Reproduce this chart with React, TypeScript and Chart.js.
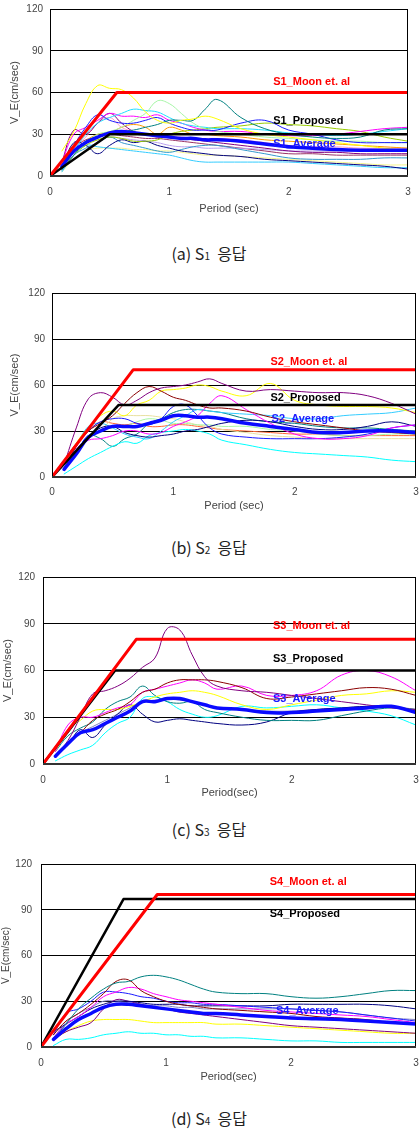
import React, { useEffect, useRef } from "react";
import { Chart, registerables } from "chart.js";
Chart.register(...registerables);

// Shared period grid (sec) for the response spectra
const periods = [0.1, 0.2, 0.3, 0.4, 0.5, 0.6, 0.7, 0.8, 0.9, 1.0, 1.1, 1.2, 1.3, 1.4, 1.6, 1.8, 2.0, 2.2, 2.4, 2.6, 2.8, 3.0];

// ---- S1 ----
const s1MoonX = [0, 0.56, 3];
const s1MoonY = [0, 60, 60];
const s1PropX = [0, 0.5, 3];
const s1PropY = [0, 30, 30];
const s1Average = [7, 18, 24, 28, 31, 32, 31, 30, 29, 28, 27, 27, 26, 26, 25, 23, 21, 20, 19, 18.5, 18.5, 18.5];
const s1Yellow = [18, 32, 52, 65, 63, 62, 56, 46, 40, 38, 40, 41, 43, 41, 34, 30, 28, 26, 24, 22, 20, 18];
const s1Teal = [5, 15, 25, 28, 30, 32, 33, 35, 37, 40, 40, 40, 48, 55, 42, 34, 30, 28, 27, 28, 33, 34];
const s1Blue = [8, 22, 35, 44, 40, 38, 38, 40, 42, 38, 35, 33, 33, 33, 38, 40, 33, 30, 26, 24, 24, 24];
const s1PaleGreen = [5, 15, 24, 30, 32, 35, 40, 45, 54, 52, 45, 38, 34, 32, 30, 28, 27, 26, 25, 25, 24, 24];
const s1Cyan = [6, 18, 30, 38, 42, 45, 48, 47, 46, 42, 38, 36, 35, 34, 34, 33, 31, 30, 29, 30, 32, 34];
const s1Magenta = [10, 30, 35, 40, 45, 43, 43, 42, 44, 40, 38, 35, 33, 32, 32, 30, 29, 29, 30, 32, 34, 35];
const s1Purple = [10, 33, 30, 38, 45, 38, 32, 30, 28, 28, 27, 26, 25, 24, 22, 20, 18, 17, 17, 16, 16, 16];
const s1Olive = [5, 15, 22, 26, 28, 27, 25, 25, 26, 30, 32, 33, 34, 35, 36, 38, 37, 36, 34, 32, 28, 25];
const s1Orange = [5, 15, 25, 30, 31, 35, 37, 35, 30, 35, 33, 30, 30, 29, 28, 26, 25, 24, 23, 22, 21, 20];
const s1Navy = [5, 24, 22, 16, 22, 26, 24, 25, 22, 20, 18, 17, 16, 15, 14, 12, 11, 10, 9, 8, 7, 5];
const s1Sky = [3, 15, 22, 21, 20, 19, 18, 17, 16, 15, 13, 11, 10, 10, 10, 10, 10, 9, 8, 7, 6, 6];
const s1Steel = [4, 15, 20, 24, 28, 24, 22, 20, 18, 17, 19, 21, 22, 22, 19, 16, 13, 12, 12, 12, 13, 13];
const s1Lavender = [5, 18, 24, 26, 28, 27, 26, 25, 24, 22, 21, 21, 20, 20, 20, 19, 18, 18, 18, 18, 18, 18];
const s1Pink = [6, 20, 28, 38, 42, 35, 32, 30, 29, 28, 28, 27, 27, 27, 26, 24, 22, 21, 21, 20, 20, 20];
const s1LightYellow = [3, 12, 18, 20, 20, 20, 19, 19, 18, 18, 17, 16, 15, 15, 14, 13, 12, 11, 10, 9, 8, 8];
const s1Plum = [5, 20, 26, 28, 30, 29, 28, 27, 27, 26, 25, 24, 23, 22, 20, 18, 16, 16, 15, 15, 15, 15];

// ---- S2 ----
const s2MoonX = [0, 0.67, 3];
const s2MoonY = [0, 70, 70];
const s2PropX = [0, 0.55, 3];
const s2PropY = [0, 47, 47];
const s2Average = [5, 15, 26, 30, 33, 33, 33, 35, 37, 40, 40, 39, 39, 38, 35, 33, 31, 29, 29, 30, 30, 29];
const s2Purple = [8, 32, 51, 55, 52, 47, 50, 55, 58, 59, 60, 62, 64, 61, 56, 57, 56, 55, 55, 53, 48, 41];
const s2DarkRed = [5, 20, 30, 35, 40, 48, 55, 59, 56, 52, 50, 47, 45, 45, 43, 39, 36, 34, 32, 30, 29, 28];
const s2Yellow = [5, 22, 32, 40, 43, 40, 47, 50, 56, 57, 58, 60, 59, 56, 53, 61, 50, 47, 46, 46, 45, 42];
const s2Magenta = [5, 18, 24, 25, 27, 30, 30, 28, 29, 33, 36, 40, 48, 53, 44, 35, 28, 25, 25, 27, 32, 34];
const s2Blue = [6, 20, 30, 36, 38, 38, 35, 34, 38, 46, 47, 40, 32, 28, 26, 25, 25, 25, 26, 28, 32, 34];
const s2Navy = [5, 18, 26, 32, 33, 29, 27, 26, 27, 28, 30, 31, 33, 35, 37, 36, 33, 31, 31, 33, 36, 33];
const s2Cyan = [2, 7, 12, 16, 20, 23, 22, 27, 29, 30, 31, 30, 28, 24, 21, 18, 16, 15, 14, 13, 11, 10];
const s2Sky = [5, 20, 33, 35, 32, 28, 26, 25, 30, 36, 40, 44, 43, 42, 41, 40, 38, 38, 40, 41, 42, 45];
const s2Teal = [5, 15, 27, 25, 20, 25, 28, 35, 38, 42, 44, 44, 43, 42, 38, 36, 35, 33, 32, 32, 31, 30];
const s2PaleGreen = [5, 15, 27, 30, 32, 33, 36, 38, 37, 35, 35, 34, 34, 33, 33, 31, 30, 28, 27, 27, 28, 28];
const s2Beige = [5, 15, 25, 30, 38, 40, 40, 40, 39, 38, 36, 34, 33, 31, 29, 27, 26, 25, 25, 25, 25, 25];
const s2Orange = [10, 22, 30, 36, 35, 34, 35, 33, 33, 34, 34, 33, 32, 31, 30, 29, 28, 28, 27, 27, 27, 27];

// ---- S3 ----
const s3MoonX = [0, 0.75, 3];
const s3MoonY = [0, 80, 80];
const s3PropX = [0, 0.58, 3];
const s3PropY = [0, 60, 60];
const s3Average = [5, 13, 20, 22, 26, 30, 34, 40, 40, 42, 42, 40, 38, 36, 35, 33, 33, 34, 35, 36, 37, 33];
const s3Purple = [5, 15, 30, 45, 47, 50, 55, 62, 68, 87, 86, 70, 56, 50, 47, 46, 44, 42, 40, 38, 36, 35];
const s3DarkRed = [5, 14, 20, 28, 32, 35, 40, 46, 48, 52, 54, 54, 54, 53, 49, 42, 43, 45, 47, 49, 48, 44];
const s3Magenta = [8, 25, 30, 30, 33, 36, 38, 46, 48, 50, 52, 54, 52, 48, 50, 44, 44, 47, 57, 60, 56, 47];
const s3Yellow = [8, 22, 28, 34, 35, 35, 37, 40, 43, 45, 46, 47, 46, 44, 38, 35, 38, 41, 44, 45, 47, 46];
const s3Teal = [8, 18, 23, 27, 35, 40, 43, 50, 44, 40, 39, 40, 35, 33, 30, 28, 28, 28, 31, 34, 36, 35];
const s3Navy = [5, 12, 22, 17, 25, 32, 38, 32, 27, 28, 29, 28, 27, 26, 25, 27, 33, 35, 36, 37, 37, 34];
const s3Cyan = [2, 6, 9, 12, 20, 26, 30, 42, 43, 40, 35, 32, 30, 31, 37, 36, 37, 38, 36, 34, 31, 25];
const s3Lavender = [5, 14, 20, 24, 28, 32, 36, 40, 41, 42, 41, 40, 38, 36, 35, 34, 34, 35, 36, 37, 37, 35];

// ---- S4 ----
const s4MoonX = [0, 0.93, 3];
const s4MoonY = [0, 100, 100];
const s4PropX = [0, 0.66, 3];
const s4PropY = [0, 97, 97];
const s4Average = [5, 12, 18, 22, 26, 28, 28, 27, 26, 25, 24, 23, 22, 22, 21, 20, 19, 18.5, 18, 17, 16, 15];
const s4Teal = [5, 15, 25, 32, 38, 42, 43, 46, 47, 46, 44, 41, 38, 36, 35, 35, 33, 32, 33, 35, 37, 37];
const s4DarkRed = [8, 17, 22, 28, 35, 43, 44, 37, 33, 30, 28, 27, 26, 25, 24, 23, 22, 20, 19, 18, 16, 15];
const s4Magenta = [6, 15, 20, 26, 33, 36, 39, 38, 35, 33, 31, 30, 29, 28, 26, 24, 23, 22, 21, 20, 18, 16];
const s4Blue = [8, 22, 25, 30, 36, 36, 35, 33, 32, 30, 29, 29, 28, 28, 27, 26, 25, 24, 23, 21, 19, 17];
const s4Navy = [10, 15, 20, 25, 28, 30, 30, 29, 28, 28, 28, 27, 27, 27, 27, 27, 28, 28, 28, 28, 27, 25];
const s4Purple = [5, 10, 13, 16, 25, 31, 30, 28, 26, 25, 23, 22, 21, 20, 18, 16, 14, 13, 12, 11, 10, 9];
const s4Yellow = [5, 10, 14, 17, 18, 18, 18, 17, 16, 16, 16, 16, 16, 15, 15, 14, 13, 12, 11, 10, 9, 9];
const s4Cyan = [1, 5, 5, 6, 8, 9, 10, 9, 9, 8, 8, 7, 7, 6, 6, 5, 4, 4, 3, 3, 3, 3];
const s4Lavender = [6, 16, 22, 26, 30, 30, 29, 28, 27, 27, 26, 26, 25, 25, 25, 25, 25, 24, 23, 21, 19, 18];

const xTitle12 = "Period (sec)";
const xTitle34 = "Period(sec)";
const yTitle = "V_E(cm/sec)";
const captionLetters = ["a", "b", "c", "d"];
const captionNums = ["1", "2", "3", "4"];
const captionWord = "응답";

const C = {
  yellow: "#ffff00", teal: "#008080", blue: "#1a1aff", paleGreen: "#a6f5a6", cyan: "#22ddff",
  magenta: "#ff00ff", purple: "#800080", olive: "#99cc00", orange: "#ff9900", navy: "#000080",
  sky: "#33ccff", steel: "#3399cc", lavender: "#b9a0ee", pink: "#ff99cc", lightYellow: "#f5f58c",
  plum: "#993366", darkRed: "#8b0000", beige: "#e8e0a0",
};

type Cfg = {
  top: number; h: number; padTop: number; padRight: number; yW: number; xH: number;
  xTickPad: number; yTickPad: number; yTitlePad: number; tickFont: number; yTitleFont: number; xTitle: string;
  moon: [number[], number[]]; prop: [number[], number[]]; avg: number[];
  thin: [number[], string][]; labels: { text: string; x: number; y: number; color: string }[];
};

const charts: Cfg[] = [
  {
    top: 0, h: 216, padTop: 9, padRight: 12, yW: 50, xH: 40, xTickPad: 10, yTickPad: 7, yTitlePad: 8, tickFont: 10, yTitleFont: 11, xTitle: xTitle12,
    moon: [s1MoonX, s1MoonY], prop: [s1PropX, s1PropY], avg: s1Average,
    thin: [[s1Yellow, C.yellow], [s1Teal, C.teal], [s1Blue, C.blue], [s1PaleGreen, C.paleGreen], [s1Cyan, C.cyan],
      [s1Magenta, C.magenta], [s1Purple, C.purple], [s1Olive, C.olive], [s1Orange, C.orange], [s1Navy, C.navy],
      [s1Sky, C.sky], [s1Steel, C.steel], [s1Lavender, C.lavender], [s1Pink, C.pink], [s1LightYellow, C.lightYellow], [s1Plum, C.plum]],
    labels: [
      { text: "S1_Moon et. al", x: 1.87, y: 67.5, color: "#ff0000" },
      { text: "S1_Proposed", x: 1.87, y: 39.5, color: "#000000" },
      { text: "S1_Average", x: 1.87, y: 23, color: "#1a1aff" },
    ],
  },
  {
    top: 280, h: 233, padTop: 13, padRight: 4, yW: 52, xH: 36, xTickPad: 9, yTickPad: 7, yTitlePad: 8, tickFont: 10, yTitleFont: 11, xTitle: xTitle12,
    moon: [s2MoonX, s2MoonY], prop: [s2PropX, s2PropY], avg: s2Average,
    thin: [[s2Purple, C.purple], [s2DarkRed, C.darkRed], [s2Yellow, C.yellow], [s2Magenta, C.magenta], [s2Blue, C.blue],
      [s2Navy, C.navy], [s2Cyan, "#00ffff"], [s2Sky, C.sky], [s2Teal, C.teal], [s2PaleGreen, C.paleGreen], [s2Beige, C.beige], [s2Orange, "#ff6633"]],
    labels: [
      { text: "S2_Moon et. al", x: 1.8, y: 75, color: "#ff0000" },
      { text: "S2_Proposed", x: 1.8, y: 51.5, color: "#000000" },
      { text: "S2_Average", x: 1.81, y: 37.8, color: "#1a1aff" },
    ],
  },
  {
    top: 560, h: 240, padTop: 17, padRight: 4, yW: 43, xH: 36, xTickPad: 10, yTickPad: 8, yTitlePad: 1.4, tickFont: 10, yTitleFont: 11, xTitle: xTitle34,
    moon: [s3MoonX, s3MoonY], prop: [s3PropX, s3PropY], avg: s3Average,
    thin: [[s3Purple, C.purple], [s3DarkRed, C.darkRed], [s3Magenta, C.magenta], [s3Yellow, C.yellow], [s3Teal, C.teal],
      [s3Navy, C.navy], [s3Cyan, "#00ffff"], [s3Lavender, "#8080c0"]],
    labels: [
      { text: "S3_Moon et. al", x: 1.85, y: 88.7, color: "#ff0000" },
      { text: "S3_Proposed", x: 1.85, y: 67.5, color: "#000000" },
      { text: "S3_Average", x: 1.85, y: 41.8, color: "#1a1aff" },
    ],
  },
  {
    top: 850, h: 234, padTop: 14, padRight: 4, yW: 41, xH: 37, xTickPad: 10, yTickPad: 9, yTitlePad: 0, tickFont: 10, yTitleFont: 10, xTitle: xTitle34,
    moon: [s4MoonX, s4MoonY], prop: [s4PropX, s4PropY], avg: s4Average,
    thin: [[s4Teal, C.teal], [s4DarkRed, C.darkRed], [s4Magenta, C.magenta], [s4Blue, C.blue], [s4Navy, C.navy],
      [s4Purple, C.purple], [s4Yellow, C.yellow], [s4Cyan, "#00ffff"], [s4Lavender, "#8080c0"]],
    labels: [
      { text: "S4_Moon et. al", x: 1.83, y: 108.2, color: "#ff0000" },
      { text: "S4_Proposed", x: 1.83, y: 87.2, color: "#000000" },
      { text: "S4_Average", x: 1.88, y: 23.6, color: "#1a1aff" },
    ],
  },
];

const captions = [
  { top: 243 },
  { top: 537 },
  { top: 819 },
  { top: 1108 },
];

const xy = (xs: number[], ys: number[]) => xs.map((x, i) => ({ x, y: ys[i] }));

const framePlugin = {
  id: "frame",
  afterDatasetsDraw(chart: any) {
    const { ctx, chartArea } = chart;
    const { left, right, top, bottom } = chartArea;
    ctx.save();
    ctx.strokeStyle = "#000";
    ctx.lineWidth = 1;
    ctx.beginPath();
    ctx.moveTo(Math.round(left) + 0.5, top);
    ctx.lineTo(Math.round(left) + 0.5, bottom);
    ctx.moveTo(Math.round(right) - 0.5, top);
    ctx.lineTo(Math.round(right) - 0.5, bottom);
    ctx.moveTo(left, Math.round(top) + 0.5);
    ctx.lineTo(right, Math.round(top) + 0.5);
    ctx.stroke();
    ctx.strokeStyle = "#333";
    ctx.lineWidth = 2;
    ctx.beginPath();
    ctx.moveTo(left, Math.round(bottom));
    ctx.lineTo(right, Math.round(bottom));
    ctx.stroke();
    ctx.restore();
  },
};

const labelPlugin = {
  id: "seriesLabels",
  afterDatasetsDraw(chart: any, _args: any, opts: any) {
    const { ctx, scales } = chart;
    ctx.save();
    ctx.font = 'bold 11px "Liberation Sans", Arial, sans-serif';
    ctx.textAlign = "left";
    ctx.textBaseline = "middle";
    for (const l of opts.items || []) {
      ctx.fillStyle = l.color;
      ctx.fillText(l.text, scales.x.getPixelForValue(l.x), scales.y.getPixelForValue(l.y));
    }
    ctx.restore();
  },
};

function buildConfig(c: Cfg): any {
  const datasets: any[] = [
    { data: xy(c.moon[0], c.moon[1]), borderColor: "#ff0000", borderWidth: 3, tension: 0 },
    { data: xy(c.prop[0], c.prop[1]), borderColor: "#000000", borderWidth: 2.5, tension: 0 },
    { data: xy(periods, c.avg), borderColor: "#0a0aff", borderWidth: 3.5, tension: 0.4 },
    ...c.thin.map(([vals, color]) => ({ data: xy(periods, vals), borderColor: color, borderWidth: 1, tension: 0.4 })),
  ];
  const tickFont = { family: '"Liberation Sans", Arial, sans-serif', size: c.tickFont };
  const titleFont = { family: '"Liberation Sans", Arial, sans-serif', size: 11 };
  return {
    type: "line",
    data: { datasets },
    plugins: [framePlugin, labelPlugin],
    options: {
      animation: false,
      responsive: false,
      events: [],
      elements: { point: { radius: 0 }, line: { fill: false, borderCapStyle: "round", borderJoinStyle: "round" } },
      layout: { padding: { left: 0, right: c.padRight, top: c.padTop, bottom: 0 } },
      plugins: {
        legend: { display: false },
        tooltip: { enabled: false },
        seriesLabels: { items: c.labels },
      },
      scales: {
        x: {
          type: "linear", min: 0, max: 3,
          ticks: { stepSize: 1, padding: c.xTickPad, font: tickFont, color: "#444", maxRotation: 0 },
          grid: { display: false, drawTicks: false },
          border: { display: false },
          title: { display: true, text: c.xTitle, font: titleFont, color: "#444", padding: { top: 0, bottom: 0 } },
          afterFit: (s: any) => { s.height = c.xH; s.paddingLeft = 0; s.paddingRight = 0; },
        },
        y: {
          type: "linear", min: 0, max: 120,
          ticks: { stepSize: 30, padding: c.yTickPad, font: tickFont, color: "#444" },
          grid: { color: "#000", lineWidth: 1, drawTicks: false },
          border: { display: false },
          title: { display: true, text: yTitle, font: { ...titleFont, size: c.yTitleFont }, color: "#444", padding: { top: c.yTitlePad, bottom: 0 } },
          afterFit: (s: any) => { s.width = c.yW; s.paddingTop = 0; s.paddingBottom = 0; },
        },
      },
    },
  };
}

function SpectrumChart({ cfg }: { cfg: Cfg }) {
  const ref = useRef<HTMLCanvasElement>(null);
  useEffect(() => {
    const chart = new Chart(ref.current as HTMLCanvasElement, buildConfig(cfg));
    return () => chart.destroy();
  }, [cfg]);
  return (
    <canvas
      ref={ref}
      width={420}
      height={cfg.h}
      style={{ position: "absolute", left: 0, top: cfg.top, width: 420, height: cfg.h }}
    />
  );
}

export default function App() {
  return (
    <div style={{ position: "absolute", left: 0, top: 0, width: 420, height: 1134, background: "#fff", overflow: "hidden" }}>
      {charts.map((c, i) => (
        <SpectrumChart key={i} cfg={c} />
      ))}
      {captions.map((cap, i) => (
        <div
          key={"cap" + i}
          style={{
            position: "absolute", left: 0, top: cap.top, width: 418, textAlign: "center",
            fontFamily: '"Noto Sans CJK KR", "Noto Sans", sans-serif', fontSize: 16, lineHeight: "20px", color: "#222",
          }}
        >
          ({captionLetters[i]}) S<span style={{ fontSize: 10 }}>{captionNums[i]}</span>&nbsp; {captionWord}
        </div>
      ))}
    </div>
  );
}
